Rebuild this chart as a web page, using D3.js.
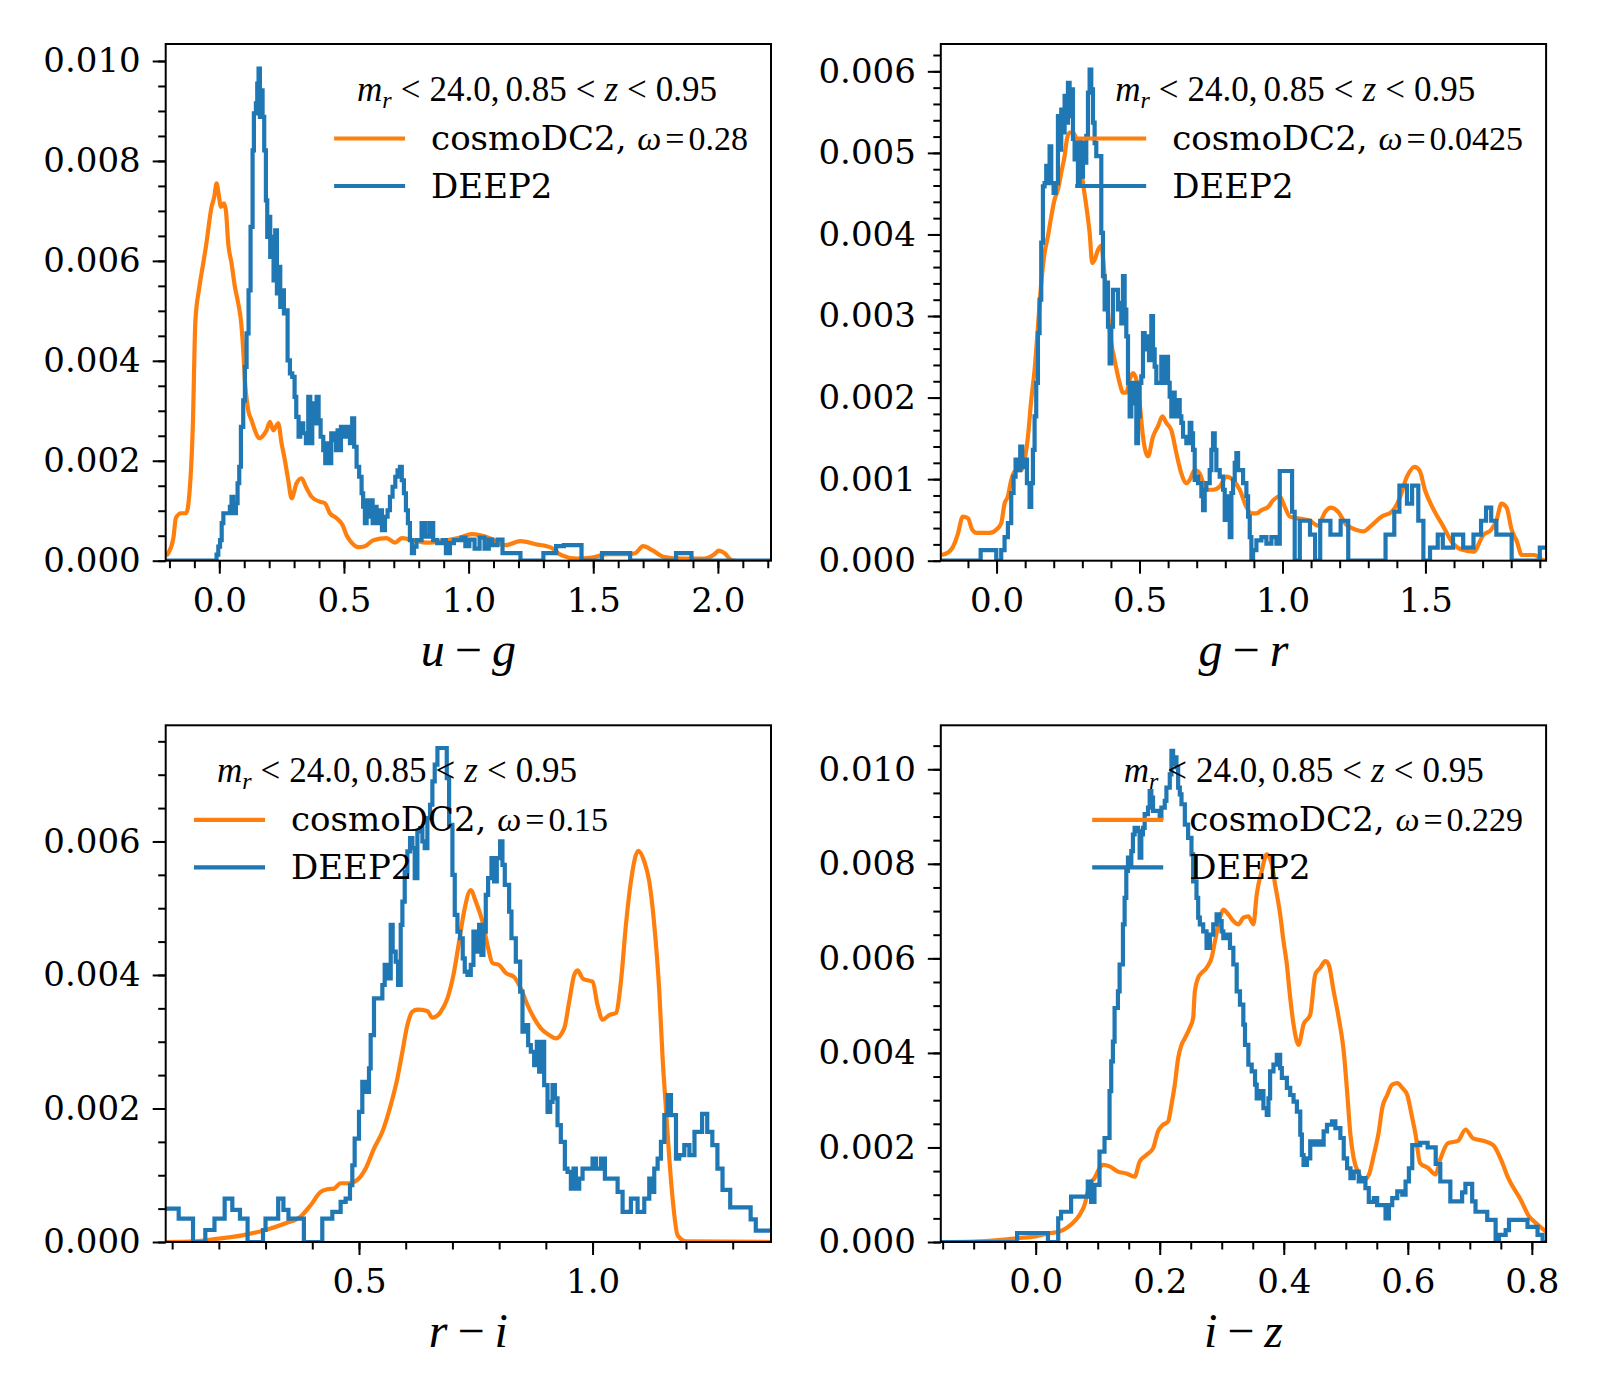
<!DOCTYPE html>
<html>
<head>
<meta charset="utf-8">
<script src="https://d3js.org/d3.v7.min.js"></script>
<style>
  body { margin: 0; background: #fff; }
  .tick-label { font-family: "DejaVu Serif", serif; font-size: 34px; fill: #000; }
</style>
</head>
<body>
<script type="text/javascript">
// ---- data: [colour value, density] ----
var ugCosmo = [[-0.213,0.0001],[-0.205,0.00015],[-0.184,0.00046],[-0.174,0.00086],[-0.154,0.00095],[-0.133,0.00095],[-0.119,0.0014],[-0.106,0.00274],[-0.096,0.00479],[-0.082,0.00541],[-0.0778,0.00555],[-0.0645,0.00595],[-0.0538,0.00628],[-0.031,0.00708],[-0.0203,0.00728],[-0.0109,0.00755],[-0.0029,0.00735],[0.0064,0.00708],[0.0184,0.00715],[0.0264,0.00701],[0.0358,0.00635],[0.0492,0.00595],[0.0626,0.00548],[0.076,0.00515],[0.088,0.00475],[0.096,0.00421],[0.1027,0.00361],[0.1161,0.00301],[0.1294,0.00281],[0.1428,0.00261],[0.1602,0.00245],[0.1763,0.00251],[0.1896,0.00261],[0.203,0.00278],[0.2164,0.00261],[0.2364,0.00275],[0.2498,0.00235],[0.2632,0.00201],[0.2766,0.00161],[0.29,0.00125],[0.31,0.00155],[0.33,0.00165],[0.3474,0.00148],[0.37,0.00128],[0.4036,0.00118],[0.4237,0.00115],[0.4437,0.00095],[0.4705,0.00085],[0.4946,0.00071],[0.5106,0.00051],[0.5307,0.00036],[0.5575,0.00027],[0.5842,0.00029],[0.6177,0.00041],[0.6712,0.00045],[0.7047,0.00036],[0.7314,0.00045],[0.7782,0.00041],[0.8317,0.00036],[0.90,0.0004],[0.962,0.00046],[1.013,0.00053],[1.085,0.00045],[1.146,0.00031],[1.208,0.00039],[1.269,0.00033],[1.331,0.00026],[1.372,0.00011],[1.433,0.00004],[1.494,0.00006],[1.556,0.00013],[1.638,0.00013],[1.668,0.00015],[1.70,0.00029],[1.74,0.0002],[1.781,0.00008],[1.863,0.00004],[1.945,0.00004],[1.986,0.00013],[2.003,0.0002],[2.027,0.00015],[2.055,0.00001],[2.07,0]];
var ugDeep = [[-0.215,0],[-0.011,0.00012],[-0.004,0.00028],[0.003,0.00041],[0.0096,0.00075],[0.0163,0.00095],[0.0425,0.00108],[0.049,0.00128],[0.056,0.00095],[0.0666,0.00115],[0.0733,0.00155],[0.080,0.00188],[0.0867,0.00268],[0.096,0.00321],[0.1027,0.00388],[0.1094,0.00455],[0.1174,0.00541],[0.1254,0.00668],[0.1335,0.00821],[0.1388,0.00895],[0.1468,0.00915],[0.1522,0.00955],[0.1575,0.00985],[0.1629,0.00888],[0.1682,0.00941],[0.1736,0.00888],[0.1802,0.00821],[0.1869,0.00721],[0.1923,0.00648],[0.199,0.00688],[0.2043,0.00608],[0.211,0.00648],[0.2177,0.00561],[0.2244,0.00661],[0.2311,0.00535],[0.2378,0.00588],[0.2445,0.00508],[0.2512,0.00541],[0.2592,0.00495],[0.2672,0.00501],[0.2739,0.00401],[0.2833,0.00375],[0.2926,0.00368],[0.302,0.00328],[0.3087,0.00288],[0.318,0.00248],[0.3248,0.00275],[0.3368,0.00255],[0.3475,0.00235],[0.3569,0.00328],[0.3649,0.00235],[0.3729,0.00315],[0.381,0.00275],[0.3903,0.00328],[0.3983,0.00281],[0.4064,0.00248],[0.417,0.00221],[0.425,0.00195],[0.433,0.00235],[0.441,0.00195],[0.449,0.00255],[0.46,0.00241],[0.468,0.00221],[0.4745,0.00261],[0.481,0.00221],[0.488,0.00268],[0.5,0.00248],[0.512,0.00268],[0.524,0.00235],[0.533,0.00285],[0.541,0.00228],[0.5507,0.00188],[0.561,0.00168],[0.5707,0.00135],[0.577,0.00108],[0.584,0.00075],[0.591,0.00121],[0.599,0.00088],[0.607,0.00121],[0.615,0.00075],[0.623,0.00108],[0.631,0.00075],[0.642,0.00101],[0.6525,0.00061],[0.6645,0.00088],[0.675,0.00101],[0.6845,0.00128],[0.695,0.00148],[0.706,0.00168],[0.715,0.00181],[0.7245,0.00188],[0.732,0.00161],[0.7406,0.00135],[0.7486,0.00101],[0.7566,0.00075],[0.7646,0.00041],[0.7726,0.00015],[0.781,0.00028],[0.791,0.00041],[0.8113,0.00075],[0.8247,0.00048],[0.842,0.00075],[0.858,0.00041],[0.874,0.00035],[0.896,0.00041],[0.909,0.00015],[0.925,0.00035],[0.941,0.00041],[0.972,0.00046],[0.987,0.00029],[1.003,0.00042],[1.024,0.00024],[1.044,0.00046],[1.064,0.00024],[1.081,0.00042],[1.095,0.00031],[1.116,0.00042],[1.136,0.00015],[1.208,0],[1.30,0.00015],[1.351,0.00029],[1.382,0.00031],[1.453,0],[1.535,0.00015],[1.648,0],[1.832,0.00015],[1.894,0],[2.213,0]];

var grCosmo = [[-0.193,0.00007],[-0.17,0.0001],[-0.154,0.00016],[-0.136,0.00032],[-0.118,0.00054],[-0.1,0.00052],[-0.085,0.00038],[-0.07,0.00034],[-0.047,0.00034],[-0.0245,0.00034],[-0.0012,0.00038],[0.0163,0.00046],[0.028,0.0007],[0.0397,0.00079],[0.0513,0.00099],[0.0688,0.00111],[0.0863,0.00111],[0.098,0.00124],[0.1097,0.00152],[0.1213,0.00197],[0.133,0.00234],[0.1447,0.00287],[0.1563,0.00341],[0.168,0.00377],[0.1797,0.00398],[0.1913,0.00422],[0.203,0.00443],[0.2147,0.00455],[0.2263,0.00476],[0.238,0.00496],[0.2462,0.00517],[0.2555,0.00525],[0.2672,0.00525],[0.2788,0.00517],[0.2905,0.00496],[0.3022,0.00463],[0.3138,0.00435],[0.3255,0.00402],[0.3348,0.00365],[0.343,0.00369],[0.3547,0.00381],[0.3663,0.00386],[0.378,0.00349],[0.3897,0.00304],[0.4013,0.00267],[0.413,0.00246],[0.4305,0.00218],[0.4422,0.00206],[0.4538,0.00206],[0.4655,0.00222],[0.4772,0.0023],[0.4888,0.00222],[0.5005,0.00193],[0.5122,0.00152],[0.5297,0.00128],[0.5472,0.00152],[0.5647,0.00165],[0.58,0.00177],[0.5938,0.00169],[0.6113,0.0016],[0.6288,0.00132],[0.6463,0.00107],[0.6638,0.00095],[0.6755,0.00099],[0.693,0.00111],[0.7105,0.00107],[0.7338,0.00087],[0.7572,0.00087],[0.7805,0.00091],[0.8038,0.00103],[0.8272,0.00099],[0.8505,0.00087],[0.8738,0.00066],[0.8913,0.00058],[0.9088,0.00058],[0.9263,0.00062],[0.95,0.00066],[0.9672,0.00074],[0.9905,0.00079],[1.008,0.00066],[1.026,0.00054],[1.07,0.00051],[1.0963,0.00049],[1.123,0.00043],[1.15,0.0006],[1.1677,0.00065],[1.1945,0.0006],[1.2213,0.00045],[1.257,0.00038],[1.2838,0.00036],[1.3105,0.00043],[1.346,0.00054],[1.382,0.0006],[1.409,0.00076],[1.4354,0.00103],[1.462,0.00115],[1.48,0.0011],[1.498,0.00087],[1.525,0.00065],[1.5607,0.00043],[1.5964,0.00021],[1.632,0.00013],[1.668,0.00011],[1.7035,0.00032],[1.73,0.00038],[1.748,0.00049],[1.766,0.0007],[1.784,0.00065],[1.8015,0.00038],[1.8194,0.00024],[1.837,0.00007],[1.882,0.00007],[1.909,0.00001],[1.922,0]];
var grDeep = [[-0.195,0],[-0.0556,0.00013],[-0.001,0],[0.0163,0.00013],[0.028,0.00029],[0.0397,0.00046],[0.0513,0.00083],[0.0595,0.00103],[0.0665,0.00124],[0.0747,0.00111],[0.0828,0.0014],[0.0898,0.00115],[0.098,0.00124],[0.1062,0.00095],[0.1155,0.00066],[0.1213,0.00095],[0.1272,0.00136],[0.133,0.00177],[0.1388,0.00218],[0.1447,0.00279],[0.1505,0.0032],[0.1563,0.0039],[0.1622,0.00459],[0.168,0.00463],[0.1738,0.00484],[0.1797,0.00463],[0.1855,0.00508],[0.1913,0.00463],[0.1995,0.00451],[0.2065,0.00463],[0.2147,0.00545],[0.2205,0.00504],[0.2263,0.00553],[0.2322,0.00525],[0.238,0.0057],[0.2438,0.00537],[0.2497,0.00586],[0.2555,0.00545],[0.2613,0.00578],[0.2672,0.00517],[0.273,0.00492],[0.2788,0.00512],[0.2847,0.00463],[0.2905,0.00517],[0.2963,0.00471],[0.3022,0.00512],[0.308,0.00488],[0.3138,0.00521],[0.3197,0.00574],[0.3255,0.00602],[0.3313,0.00578],[0.3372,0.00537],[0.343,0.00512],[0.3488,0.00496],[0.3663,0.00402],[0.3722,0.00349],[0.378,0.00308],[0.3838,0.00341],[0.3897,0.00287],[0.3955,0.00242],[0.4013,0.00287],[0.4072,0.00332],[0.4247,0.00308],[0.4305,0.00316],[0.4363,0.00291],[0.4422,0.00349],[0.448,0.00308],[0.4538,0.00275],[0.4597,0.00218],[0.4655,0.00177],[0.4713,0.00218],[0.4772,0.00193],[0.483,0.00218],[0.4888,0.00144],[0.4947,0.00177],[0.5005,0.00218],[0.5063,0.00226],[0.5122,0.00279],[0.518,0.00259],[0.5238,0.00275],[0.5332,0.00246],[0.5413,0.003],[0.5472,0.00259],[0.553,0.00238],[0.5588,0.00218],[0.5763,0.0025],[0.5822,0.00218],[0.5938,0.0025],[0.5997,0.00218],[0.6055,0.00201],[0.6113,0.00177],[0.6172,0.00206],[0.623,0.00185],[0.6288,0.00177],[0.6347,0.00197],[0.6405,0.00177],[0.6463,0.00169],[0.6522,0.00152],[0.6638,0.00144],[0.6755,0.00169],[0.6813,0.00156],[0.6872,0.00136],[0.693,0.00099],[0.6988,0.00103],[0.7047,0.00095],[0.7163,0.00079],[0.7222,0.00062],[0.728,0.00087],[0.7338,0.00095],[0.7455,0.00111],[0.7513,0.00136],[0.7572,0.00156],[0.763,0.00136],[0.7688,0.00111],[0.7805,0.00103],[0.7922,0.00087],[0.798,0.0005],[0.8038,0.00079],[0.8155,0.00029],[0.8213,0.00083],[0.8272,0.00099],[0.833,0.0012],[0.8388,0.00132],[0.8447,0.00111],[0.8622,0.00095],[0.8738,0.00079],[0.8797,0.00054],[0.8855,0.00029],[0.8913,0],[0.8972,0.00013],[0.9088,0.00025],[0.9263,0.00029],[0.9438,0.00021],[0.9613,0.00029],[0.9788,0.00021],[0.9905,0.0011],[1.0336,0.0006],[1.0427,0],[1.0606,0.00049],[1.0963,0.00032],[1.114,0],[1.132,0.00049],[1.1677,0.00032],[1.2034,0.00049],[1.23,0],[1.3605,0.00032],[1.391,0.0006],[1.409,0.00092],[1.4354,0.0007],[1.4533,0.00092],[1.475,0.00049],[1.4928,0],[1.516,0.00016],[1.543,0.00032],[1.5607,0.00016],[1.5964,0.00032],[1.632,0.00016],[1.668,0.00032],[1.6945,0.00049],[1.712,0.00065],[1.73,0.00049],[1.748,0.00032],[1.8015,0],[1.90,0.00016],[1.922,0.00016]];

var riCosmo = [[0.087,0],[0.15,0.00001],[0.2,0.00005],[0.25,0.0001],[0.3,0.00018],[0.343,0.00028],[0.375,0.00038],[0.3964,0.00055],[0.4179,0.00075],[0.4321,0.00079],[0.4464,0.0008],[0.4607,0.00088],[0.4786,0.00088],[0.4964,0.00093],[0.5143,0.0011],[0.5321,0.0014],[0.55,0.00165],[0.5679,0.00205],[0.5821,0.00245],[0.5929,0.00285],[0.6036,0.00325],[0.6143,0.00345],[0.625,0.00348],[0.6464,0.00346],[0.6571,0.00336],[0.675,0.00345],[0.6893,0.00365],[0.7036,0.00405],[0.7143,0.0045],[0.725,0.00495],[0.7393,0.00527],[0.75,0.0051],[0.7643,0.0048],[0.775,0.00445],[0.7857,0.00418],[0.8,0.00415],[0.8143,0.00403],[0.8321,0.00397],[0.8464,0.0038],[0.8607,0.00355],[0.875,0.00335],[0.8893,0.0032],[0.9071,0.0031],[0.9214,0.00305],[0.9393,0.0032],[0.95,0.0036],[0.9607,0.004],[0.9679,0.00407],[0.9786,0.00395],[0.9893,0.00392],[1.0,0.0039],[1.0107,0.00355],[1.0214,0.00333],[1.0357,0.0034],[1.05,0.00343],[1.0607,0.0039],[1.0714,0.00475],[1.0821,0.0054],[1.0979,0.00586],[1.1107,0.0057],[1.1214,0.0054],[1.1321,0.00475],[1.1429,0.00375],[1.15,0.00275],[1.1571,0.002],[1.1643,0.00125],[1.1714,0.00065],[1.1821,0.0001],[1.2,0.00001],[1.382,0]];
var riDeep = [[0.0867,0.0005],[0.114,0.00035],[0.1447,0],[0.171,0.00018],[0.1906,0.00035],[0.2124,0.00065],[0.2288,0.00048],[0.2452,0.00035],[0.2615,0],[0.2945,0.00018],[0.2999,0.00035],[0.327,0.00065],[0.3382,0.00048],[0.349,0.00035],[0.382,0],[0.4214,0.00035],[0.4429,0.00045],[0.4607,0.0006],[0.4714,0.00065],[0.4807,0.00085],[0.4857,0.00115],[0.4907,0.00155],[0.5,0.00195],[0.5071,0.0024],[0.5143,0.00225],[0.5214,0.0026],[0.525,0.0031],[0.5321,0.00365],[0.55,0.00385],[0.555,0.00415],[0.5621,0.00395],[0.5679,0.00475],[0.5721,0.00435],[0.5786,0.0042],[0.5836,0.00385],[0.5893,0.00475],[0.5929,0.0051],[0.5979,0.00555],[0.6036,0.00585],[0.6093,0.00605],[0.6143,0.0059],[0.6193,0.00545],[0.625,0.00615],[0.6307,0.0062],[0.6357,0.006],[0.6407,0.0059],[0.6464,0.00635],[0.6521,0.00655],[0.6571,0.0069],[0.6621,0.00715],[0.6679,0.0074],[0.6879,0.00695],[0.6929,0.00625],[0.7,0.0055],[0.705,0.0049],[0.7107,0.00465],[0.7164,0.00455],[0.7221,0.00425],[0.7264,0.00405],[0.7321,0.004],[0.7393,0.00415],[0.745,0.00465],[0.75,0.00435],[0.7571,0.00475],[0.7621,0.0043],[0.7664,0.00465],[0.7714,0.0052],[0.7764,0.00545],[0.7836,0.00575],[0.7893,0.0054],[0.795,0.00575],[0.8021,0.006],[0.8071,0.00565],[0.8121,0.00535],[0.8214,0.00495],[0.8264,0.00455],[0.8357,0.0042],[0.845,0.00375],[0.85,0.00315],[0.8571,0.00325],[0.8621,0.00295],[0.8679,0.00285],[0.875,0.00265],[0.8807,0.003],[0.8857,0.00255],[0.8907,0.003],[0.8964,0.00235],[0.9036,0.00195],[0.9093,0.0021],[0.9143,0.00235],[0.9193,0.00215],[0.925,0.00175],[0.9321,0.0015],[0.9407,0.0011],[0.9464,0.00105],[0.9536,0.0008],[0.9593,0.0011],[0.9643,0.0008],[0.9714,0.00095],[0.9786,0.0011],[1.0,0.00125],[1.0071,0.0011],[1.0179,0.00125],[1.0264,0.00095],[1.0536,0.00075],[1.0643,0.00045],[1.0821,0.00065],[1.0964,0.00045],[1.1107,0.00065],[1.1214,0.00095],[1.125,0.00075],[1.1321,0.0011],[1.1393,0.00125],[1.1464,0.0015],[1.1536,0.0019],[1.1607,0.0022],[1.1679,0.0019],[1.1786,0.00125],[1.1855,0.0013],[1.1964,0.00145],[1.2073,0.0013],[1.2182,0.00165],[1.2345,0.00192],[1.2455,0.00165],[1.2564,0.00145],[1.2673,0.0011],[1.2782,0.00078],[1.2947,0.00052],[1.3384,0.00034],[1.3494,0.00017],[1.382,0.00017]];

var izCosmo = [[-0.153,0],[-0.1,0.00001],[-0.06,0.00004],[-0.03,0.00008],[0,0.00012],[0.02,0.00018],[0.0382,0.00022],[0.0491,0.00029],[0.0598,0.0004],[0.0706,0.00057],[0.0787,0.00078],[0.0867,0.00121],[0.0948,0.00135],[0.1029,0.00156],[0.1083,0.00163],[0.1191,0.0016],[0.1326,0.00149],[0.1461,0.00145],[0.1595,0.00138],[0.1676,0.0017],[0.1784,0.00184],[0.1892,0.00198],[0.1973,0.00234],[0.2054,0.00248],[0.2135,0.00255],[0.2189,0.0029],[0.2243,0.00333],[0.2297,0.00389],[0.2351,0.00417],[0.2405,0.00431],[0.2485,0.00453],[0.2539,0.00474],[0.2566,0.0053],[0.262,0.00559],[0.2674,0.00569],[0.2755,0.0058],[0.2836,0.00601],[0.289,0.00636],[0.2971,0.00686],[0.3025,0.00703],[0.3106,0.00693],[0.3187,0.00679],[0.3268,0.00672],[0.3348,0.00686],[0.3429,0.00689],[0.351,0.00672],[0.3564,0.00735],[0.3645,0.00785],[0.3726,0.0082],[0.3807,0.00799],[0.3861,0.00756],[0.3942,0.00693],[0.3996,0.00636],[0.405,0.00587],[0.4093,0.0053],[0.4158,0.0046],[0.4238,0.00417],[0.4319,0.0046],[0.4427,0.00481],[0.4508,0.00566],[0.4589,0.0058],[0.467,0.00594],[0.4724,0.00587],[0.4805,0.0053],[0.4886,0.00474],[0.4967,0.00403],[0.5021,0.00319],[0.5075,0.00227],[0.5128,0.00177],[0.5209,0.00145],[0.529,0.00131],[0.5371,0.00142],[0.5452,0.00184],[0.5533,0.00234],[0.5587,0.00283],[0.5668,0.00311],[0.5749,0.00333],[0.583,0.00336],[0.5911,0.00326],[0.5991,0.00311],[0.6072,0.00262],[0.6126,0.00227],[0.6198,0.00167],[0.6323,0.00157],[0.6445,0.00143],[0.6526,0.00176],[0.6648,0.00209],[0.681,0.00214],[0.6932,0.00238],[0.7053,0.00219],[0.7215,0.00214],[0.7377,0.00205],[0.7498,0.00176],[0.762,0.00135],[0.7822,0.00089],[0.7956,0.00054],[0.8065,0.0004],[0.82,0.00025],[0.823,0.00022]];
var izDeep = [[-0.153,0],[-0.03,0.00019],[0.0198,0],[0.0363,0.0005],[0.0409,0.00064],[0.0571,0.00096],[0.084,0.00128],[0.0894,0.00085],[0.0948,0.00121],[0.1029,0.00191],[0.111,0.0022],[0.1191,0.00319],[0.1218,0.00382],[0.1245,0.00424],[0.1272,0.00495],[0.1326,0.0053],[0.1353,0.00587],[0.1407,0.00672],[0.1434,0.00728],[0.1461,0.00785],[0.1488,0.00813],[0.1515,0.00799],[0.1542,0.00827],[0.1568,0.00862],[0.1595,0.00876],[0.1649,0.00869],[0.1676,0.00813],[0.1703,0.00862],[0.173,0.00876],[0.1757,0.00905],[0.1811,0.00919],[0.1838,0.00954],[0.1865,0.0094],[0.1892,0.00912],[0.2,0.00898],[0.2027,0.00919],[0.2081,0.00933],[0.2108,0.00961],[0.2162,0.00989],[0.2189,0.01039],[0.2216,0.01011],[0.2243,0.01025],[0.227,0.01004],[0.2297,0.00961],[0.2324,0.00947],[0.2351,0.00926],[0.2405,0.00883],[0.2458,0.00855],[0.2512,0.0082],[0.2539,0.00763],[0.2593,0.00728],[0.262,0.00686],[0.2647,0.00672],[0.2701,0.00657],[0.2755,0.00622],[0.2809,0.0065],[0.2863,0.00672],[0.2917,0.00693],[0.296,0.00679],[0.2998,0.00657],[0.3025,0.00643],[0.3079,0.0065],[0.3133,0.00622],[0.3187,0.00587],[0.3241,0.0053],[0.3294,0.00502],[0.3348,0.0046],[0.3375,0.00417],[0.3429,0.00375],[0.3483,0.00361],[0.3537,0.00333],[0.3564,0.00304],[0.3618,0.00319],[0.3672,0.00283],[0.3726,0.00269],[0.3753,0.00304],[0.378,0.00361],[0.3834,0.00375],[0.3888,0.00396],[0.3942,0.00368],[0.3969,0.00347],[0.405,0.00326],[0.4104,0.00311],[0.4158,0.00297],[0.4212,0.00276],[0.4266,0.00227],[0.4292,0.00184],[0.4319,0.00163],[0.4373,0.00177],[0.4427,0.00213],[0.4481,0.00206],[0.4535,0.00213],[0.4589,0.00206],[0.4643,0.00234],[0.4697,0.00248],[0.4778,0.00255],[0.4832,0.00241],[0.4913,0.0022],[0.4967,0.00177],[0.5021,0.00156],[0.5075,0.00135],[0.5128,0.00149],[0.5209,0.00128],[0.5263,0.00135],[0.5317,0.00114],[0.5371,0.00085],[0.5452,0.00093],[0.5506,0.00078],[0.5641,0.0005],[0.5695,0.00078],[0.5749,0.00093],[0.583,0.00107],[0.5911,0.001],[0.5964,0.00128],[0.6018,0.00156],[0.6072,0.00205],[0.62,0.0021],[0.632,0.002],[0.645,0.00165],[0.6524,0.00128],[0.6686,0.00086],[0.6876,0.00105],[0.6929,0.00123],[0.7038,0.00086],[0.7092,0.00064],[0.7281,0.00047],[0.7416,0],[0.747,0.00015],[0.7578,0.00025],[0.7632,0.00047],[0.793,0.00032],[0.8092,0.00015],[0.8173,0],[0.823,0]];

// tick labels
var ugXTicks = [0.0, 0.5, 1.0, 1.5, 2.0];
var grXTicks = [0.0, 0.5, 1.0, 1.5];
var riXTicks = [0.5, 1.0];
var izXTicks = [0.0, 0.2, 0.4, 0.6, 0.8];
var ugYTicks = [0.000, 0.002, 0.004, 0.006, 0.008, 0.010];
var grYTicks = [0.000, 0.001, 0.002, 0.003, 0.004, 0.005, 0.006];
var riYTicks = [0.000, 0.002, 0.004, 0.006];
var izYTicks = [0.000, 0.002, 0.004, 0.006, 0.008, 0.010];

var seriesNames = ["cosmoDC2", "DEEP2"];
var omegas = ["0.28", "0.0425", "0.15", "0.229"];
var colorLabels = [["u", "g"], ["g", "r"], ["r", "i"], ["i", "z"]];

var orange = "#ff7f0e", blue = "#1f77b4";
var mathFont = "'Liberation Serif', 'Times New Roman', serif";
var textFont = "'DejaVu Serif', serif";
var lw = 4.2;

var svg = d3.select("body").append("svg")
    .attr("width", 1600)
    .attr("height", 1400);

var panels = [
  {left: 165.7, top: 44, xDomain: [-0.215, 2.213], yDomain: [0, 0.01034], xTicks: ugXTicks, xMinor: 0.1, yTicks: ugYTicks, yMinor: 0.0005, cosmo: ugCosmo, deep: ugDeep, legend: "right"},
  {left: 940.8, top: 44, xDomain: [-0.195, 1.922], yDomain: [0, 0.006335], xTicks: grXTicks, xMinor: 0.1, yTicks: grYTicks, yMinor: 0.0002, cosmo: grCosmo, deep: grDeep, legend: "right"},
  {left: 165.7, top: 725.3, xDomain: [0.0862, 1.382], yDomain: [0, 0.00774], xTicks: riXTicks, xMinor: 0.1, yTicks: riYTicks, yMinor: 0.0005, cosmo: riCosmo, deep: riDeep, legend: "left"},
  {left: 940.8, top: 725.3, xDomain: [-0.153, 0.823], yDomain: [0, 0.01093], xTicks: izXTicks, xMinor: 0.05, yTicks: izYTicks, yMinor: 0.0005, cosmo: izCosmo, deep: izDeep, legend: "right"}
];
var pw = 605.3, ph = 516.7;

function minorTicks(domain, step) {
  var out = [];
  var start = Math.ceil(domain[0] / step - 1e-6);
  for (var k = start; k * step <= domain[1] + 1e-9; k++) out.push(+(k * step).toFixed(6));
  return out;
}

panels.forEach(function(p, i) {
  var g = svg.append("g").attr("transform", "translate(" + p.left + "," + p.top + ")");
  var x = d3.scaleLinear().domain(p.xDomain).range([0, pw]);
  var y = d3.scaleLinear().domain(p.yDomain).range([ph, 0]);

  g.append("clipPath").attr("id", "clip" + i)
    .append("rect").attr("width", pw).attr("height", ph);

  // data lines: cosmoDC2 smooth, DEEP2 step histogram
  var smooth = d3.line().x(function(d) { return x(d[0]); }).y(function(d) { return y(d[1]); })
      .curve(d3.curveMonotoneX);
  var step = d3.line().x(function(d) { return x(d[0]); }).y(function(d) { return y(d[1]); })
      .curve(d3.curveStepAfter);

  var plot = g.append("g").attr("clip-path", "url(#clip" + i + ")");
  plot.append("path").datum(p.cosmo)
    .attr("d", smooth).attr("fill", "none").attr("stroke", orange)
    .attr("stroke-width", lw).attr("stroke-linejoin", "round");
  plot.append("path").datum(p.deep)
    .attr("d", step).attr("fill", "none").attr("stroke", blue)
    .attr("stroke-width", lw).attr("stroke-linejoin", "miter");

  // axes with major + minor ticks
  var xAxis = d3.axisBottom(x).tickValues(p.xTicks).tickFormat(d3.format(".1f"))
      .tickSizeInner(13).tickSizeOuter(0).tickPadding(14);
  var xMinorAxis = d3.axisBottom(x).tickValues(minorTicks(p.xDomain, p.xMinor))
      .tickFormat("").tickSizeInner(7.5).tickSizeOuter(0);
  var yAxis = d3.axisLeft(y).tickValues(p.yTicks).tickFormat(d3.format(".3f"))
      .tickSizeInner(13).tickSizeOuter(0).tickPadding(12);
  var yMinorAxis = d3.axisLeft(y).tickValues(minorTicks(p.yDomain, p.yMinor))
      .tickFormat("").tickSizeInner(7.5).tickSizeOuter(0);

  [xMinorAxis, xAxis].forEach(function(a) {
    g.append("g").attr("class", "axis").attr("transform", "translate(0," + ph + ")").call(a);
  });
  [yMinorAxis, yAxis].forEach(function(a) {
    g.append("g").attr("class", "axis").call(a);
  });
  g.selectAll(".axis path").remove();
  g.selectAll(".axis line").attr("stroke", "#000").attr("stroke-width", 2);
  g.selectAll(".axis text").attr("class", "tick-label").attr("fill", "#000");

  // frame
  g.append("rect").attr("width", pw).attr("height", ph)
    .attr("fill", "none").attr("stroke", "#000").attr("stroke-width", 2);

  // x label in math italic
  var lab = g.append("text")
    .attr("x", pw / 2).attr("y", ph + 105)
    .attr("text-anchor", "middle")
    .style("font-family", mathFont).style("font-size", "48px");
  lab.append("tspan").attr("font-style", "italic").text(colorLabels[i][0]);
  lab.append("tspan").attr("dx", 10).text("\u2212");
  lab.append("tspan").attr("dx", 10).attr("font-style", "italic").text(colorLabels[i][1]);

  // legend
  var leg = g.append("g");
  var row1 = 94.5, row2 = 142;
  var t1 = leg.append("text").attr("y", row1 + 11.5)
    .style("font-family", textFont).style("font-size", "34px");
  t1.append("tspan").text(seriesNames[0] + ", ");
  t1.append("tspan").style("font-family", mathFont).attr("font-style", "italic").text("\u03c9");
  t1.append("tspan").style("font-family", mathFont).attr("dx", 4).text("=");
  t1.append("tspan").style("font-family", mathFont).attr("dx", 4).text(omegas[i]);
  var t2 = leg.append("text").attr("y", row2 + 11.5)
    .style("font-family", textFont).style("font-size", "34px")
    .text(seriesNames[1]);
  var maxW = Math.max(t1.node().getComputedTextLength(), t2.node().getComputedTextLength());
  var hx;
  if (p.legend === "right") {
    hx = pw - 31 - maxW - 26 - 71;
  } else {
    hx = 28.3;
  }
  var tx = hx + 71 + 26;
  t1.attr("x", tx);
  t2.attr("x", tx);
  leg.append("line").attr("x1", hx).attr("x2", hx + 71).attr("y1", row1).attr("y2", row1)
    .attr("stroke", orange).attr("stroke-width", lw);
  leg.append("line").attr("x1", hx).attr("x2", hx + 71).attr("y1", row2).attr("y2", row2)
    .attr("stroke", blue).attr("stroke-width", lw);

  var title = leg.append("text")
    .attr("x", (hx + tx + maxW) / 2).attr("y", 56.5)
    .attr("text-anchor", "middle")
    .style("font-family", mathFont).style("font-size", "35px");
  title.append("tspan").attr("font-style", "italic").text("m");
  title.append("tspan").attr("font-style", "italic").attr("font-size", "24px").attr("dy", 7).text("r");
  title.append("tspan").attr("dy", -7).attr("dx", 9).text("<");
  title.append("tspan").attr("dx", 9).text("24.0,");
  title.append("tspan").attr("dx", 6).text("0.85");
  title.append("tspan").attr("dx", 9).text("<");
  title.append("tspan").attr("dx", 9).attr("font-style", "italic").text("z");
  title.append("tspan").attr("dx", 9).text("<");
  title.append("tspan").attr("dx", 9).text("0.95");
});
</script>
</body>
</html>
